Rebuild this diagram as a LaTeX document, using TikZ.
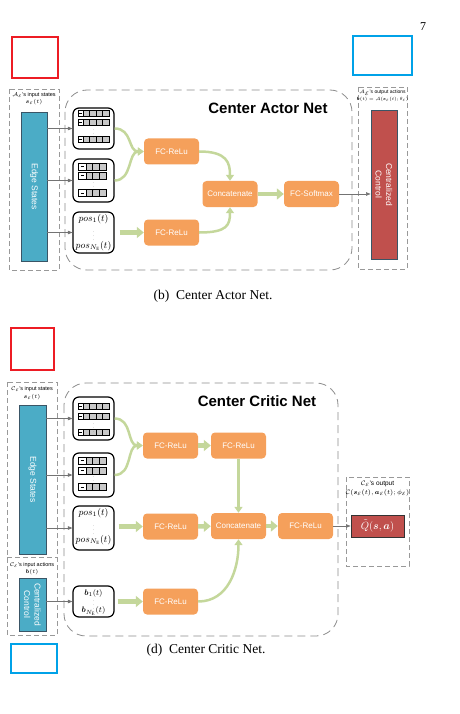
\RequirePackage{fix-cm}
\documentclass[tikz,border=0pt]{standalone}
\usepackage{fontspec}
\setmainfont{Liberation Serif}
\setsansfont{Liberation Sans}
\usepackage{bm}
\usetikzlibrary{arrows.meta}

\definecolor{netorange}{HTML}{F5A05B}
\definecolor{netgreen}{HTML}{C4D79B}
\definecolor{netteal}{HTML}{4BACC6}
\definecolor{netred}{HTML}{C0504D}
\definecolor{netedge}{HTML}{3A5566}
\definecolor{cellgray}{HTML}{C8C8C8}
\definecolor{markred}{HTML}{ED1C24}
\definecolor{markblue}{HTML}{00A2E8}

\tikzset{
  fcbox/.style={fill=netorange, rounded corners=4pt, minimum width=55pt, minimum height=26pt,
    inner sep=0pt, text=white, font=\sffamily\fontsize{8}{9}\selectfont},
  barbox/.style={draw=netedge, line width=0.9pt, fill=netteal, minimum width=26pt, inner sep=0pt},
  bartext/.style={rotate=-90, text=white, font=\sffamily\fontsize{8.5}{10.5}\selectfont, align=center},
  datablk/.style={draw=black, line width=1.2pt, rounded corners=6pt, minimum width=41pt, inner sep=0pt},
  thinarr/.style={draw=black!55, line width=0.6pt, -{Triangle[length=4.5pt,width=3.5pt]}},
  curvarr/.style={draw=netgreen, line width=2.5pt, -{Triangle[length=6pt,width=8pt]}},
  fatarr/.style={draw=netgreen, line width=4.5pt, -{Triangle[length=7pt,width=11pt]}},
  dashbox/.style={draw=black!40, line width=0.7pt, dash pattern=on 5pt off 3pt},
  netbox/.style={draw=black!45, line width=0.8pt, dash pattern=on 8pt off 5pt, rounded corners=22pt},
  tinytext/.style={font=\sffamily\fontsize{5.5}{6}\selectfont, inner sep=0pt},
  nettitle/.style={font=\sffamily\bfseries\fontsize{15}{17}\selectfont},
  vdotsnode/.style={text=black!50, font=\fontsize{5}{5}\selectfont, inner sep=0pt},
  marker/.style={line width=1.5pt},
}

\begin{document}
\begin{tikzpicture}[x=1pt, y=-1pt]
  \useasboundingbox (0,0) rectangle (459,714);

  \node[font=\fontsize{12}{13}\selectfont] (pagenum) at (423,27) {7};
  \draw[marker, draw=markred] (12,37) rectangle (58,78);
  \draw[marker, draw=markblue] (353,36) rectangle (412,75);

  % actor net
  \draw[dashbox] (9,89) rectangle (59,270);
  \node[tinytext] (inA1) at (34,95) {$\mathcal{A}_{\mathcal{E}}$'s input states};
  \node[tinytext] (inA2) at (34,102) {$\bm{s}_{\mathcal{E}}(t)$};
  \node[barbox, minimum height=149pt] (edgeA) at (34,186.5) {};
  \node[bartext] (edgeAtxt) at (edgeA) {Edge States};
  \draw[netbox] (65,90) rectangle (352,270);
  \node[nettitle] (titleA) at (268,108) {Center Actor Net};

  \node[datablk, minimum height=41pt] (blkA1) at (93.5,128.5) {};
  \node[datablk, minimum height=43pt] (blkA2) at (93.5,180.5) {};
  \node[datablk, minimum height=41pt] (blkA3) at (93.5,232.5) {};
  \foreach \r in {113,122,139} {
    \draw[line width=0.9pt, fill=white] (78,\r-3) rectangle (109,\r+3);
    \foreach \c in {0,...,3}
      \draw[line width=0.4pt, fill=cellgray] (83+6.5*\c,\r-3) rectangle ++(6.5,6);
    \draw[line width=0.5pt] (79.3,\r) -- (81.7,\r);
  }
  \foreach \r in {166.5,175.5,193} {
    \draw[line width=0.9pt, fill=white] (78,\r-3.5) rectangle (106,\r+3.5);
    \foreach \c in {0,1,2}
      \draw[line width=0.4pt, fill=cellgray] (86+6.67*\c,\r-3.5) rectangle ++(6.67,7);
    \draw[line width=0.6pt] (80.5,\r) -- (83.5,\r);
  }
  \node[vdotsnode] (dotsA1) at (93.5,131) {$\vdots$};
  \node[vdotsnode] (dotsA2) at (93.5,184) {$\vdots$};
  \node[font=\fontsize{9.5}{10}\selectfont, inner sep=0pt] (posA1) at (93.5,219) {$pos_1(t)$};
  \node[vdotsnode] (dotsA3) at (93.5,233) {$\vdots$};
  \node[font=\fontsize{9.5}{10}\selectfont, inner sep=0pt] (posA2) at (93.5,246) {$pos_{N_{\mathrm{E}}}(t)$};

  \node[fcbox] (fcA1) at (171.5,151.5) {FC-ReLu};
  \node[fcbox] (fcA2) at (171.5,232.5) {FC-ReLu};
  \node[fcbox] (catA) at (230,194) {Concatenate};
  \node[fcbox] (smaxA) at (311.5,194) {FC-Softmax};

  \draw[dashbox] (358,87) rectangle (407,269);
  \node[tinytext, font=\sffamily\fontsize{5}{5.5}\selectfont] (outA1) at (382.5,93) {$\mathcal{A}_{\mathcal{E}}$'s output actions};
  \node[tinytext, font=\fontsize{4.5}{5}\selectfont] (outA2) at (382.5,99.5) {$\bm{b}(t)=\mathcal{A}(\bm{s}_{\mathcal{E}}(t);\theta_{\mathcal{E}})$};
  \node[barbox, fill=netred, minimum height=149pt] (ctrlA) at (384,184.5) {};
  \node[bartext] (ctrlAtxt) at (ctrlA) {Centralized\\Control};

  \draw[thinarr] (blkA1.west -| edgeA.east) -- (blkA1.west);
  \draw[thinarr] (blkA2.west -| edgeA.east) -- (blkA2.west);
  \draw[thinarr] (blkA3.west -| edgeA.east) -- (blkA3.west);
  \draw[curvarr] (blkA1.east) .. controls +(18,0) and +(-16,0) .. (fcA1.west);
  \draw[curvarr] (blkA2.east) .. controls +(18,0) and +(-16,0) .. (fcA1.west);
  \draw[fatarr, shorten <=5pt] (blkA3.east) -- (fcA2.west);
  \draw[curvarr] (fcA1.east) .. controls +(28,0) and +(0,-18) .. (catA.north);
  \draw[curvarr] (fcA2.east) .. controls +(28,0) and +(0,18) .. (catA.south);
  \draw[fatarr] (catA) -- (smaxA);
  \draw[thinarr] (smaxA.east) -- (smaxA.east -| ctrlA.west);

  \node[font=\fontsize{13.5}{15}\selectfont] (capA) at (213,296) {(b)\enspace Center Actor Net.};

  % critic net
  \draw[marker, draw=markred] (11,328) rectangle (54,370);
  \draw[dashbox] (7,382) rectangle (57,635);
  \draw[dashbox] (7,557) -- (57,557);
  \node[tinytext] (inC1) at (32,389) {$\mathcal{C}_{\mathcal{E}}$'s input states};
  \node[tinytext] (inC2) at (32,397) {$\bm{s}_{\mathcal{E}}(t)$};
  \node[barbox, minimum width=27pt, minimum height=149pt] (edgeC) at (32.5,479.5) {};
  \node[bartext] (edgeCtxt) at (edgeC) {Edge States};
  \node[tinytext] (inC3) at (32,565) {$\mathcal{C}_{\mathcal{E}}$'s input actions};
  \node[tinytext] (inC4) at (32,572) {$\bm{b}(t)$};
  \node[barbox, minimum width=27pt, minimum height=53pt] (ctrlC) at (32.5,604.5) {};
  \node[bartext] (ctrlCtxt) at (ctrlC) {Centralized\\Control};
  \draw[netbox] (64,383) rectangle (338,636);
  \node[nettitle] (titleC) at (257,401) {Center Critic Net};

  \node[datablk, minimum height=43pt] (blkC1) at (93.5,418.5) {};
  \node[datablk, minimum height=44pt] (blkC2) at (93.5,475) {};
  \node[datablk, minimum height=44pt] (blkC3) at (93.5,528) {};
  \node[datablk, minimum height=31pt] (blkC4) at (93.5,601.5) {};
  \foreach \r in {406.5,416.5,432.5} {
    \draw[line width=0.9pt, fill=white] (78,\r-3) rectangle (109,\r+3);
    \foreach \c in {0,...,3}
      \draw[line width=0.4pt, fill=cellgray] (83+6.5*\c,\r-3) rectangle ++(6.5,6);
    \draw[line width=0.5pt] (79.3,\r) -- (81.7,\r);
  }
  \foreach \r in {460.5,470.5,487} {
    \draw[line width=0.9pt, fill=white] (78,\r-3.5) rectangle (106,\r+3.5);
    \foreach \c in {0,1,2}
      \draw[line width=0.4pt, fill=cellgray] (86+6.67*\c,\r-3.5) rectangle ++(6.67,7);
    \draw[line width=0.6pt] (80.5,\r) -- (83.5,\r);
  }
  \node[vdotsnode] (dotsC1) at (93.5,425) {$\vdots$};
  \node[vdotsnode] (dotsC2) at (93.5,478) {$\vdots$};
  \node[font=\fontsize{9.5}{10}\selectfont, inner sep=0pt] (posC1) at (93.5,513) {$pos_1(t)$};
  \node[vdotsnode] (dotsC3) at (93.5,527) {$\vdots$};
  \node[font=\fontsize{9.5}{10}\selectfont, inner sep=0pt] (posC2) at (93.5,540) {$pos_{N_{\mathrm{E}}}(t)$};
  \node[font=\fontsize{8}{9}\selectfont, inner sep=0pt] (actC1) at (93.5,593) {$\bm{b}_1(t)$};
  \node[vdotsnode] (dotsC4) at (93.5,602) {$\vdots$};
  \node[font=\fontsize{8}{9}\selectfont, inner sep=0pt] (actC2) at (93.5,611) {$\bm{b}_{N_{\mathrm{E}}}(t)$};

  \node[fcbox] (fcC1) at (170.5,445.5) {FC-ReLu};
  \node[fcbox] (fcC2) at (238.5,445.5) {FC-ReLu};
  \node[fcbox] (fcC3) at (170.5,526.5) {FC-ReLu};
  \node[fcbox] (catC) at (238.5,526) {Concatenate};
  \node[fcbox] (fcC4) at (305.5,526) {FC-ReLu};
  \node[fcbox] (fcC5) at (170.5,601.5) {FC-ReLu};

  \draw[dashbox] (346,477) rectangle (409,566);
  \node[font=\sffamily\fontsize{6.5}{7}\selectfont, inner sep=0pt] (outC1) at (377.5,484) {$\mathcal{C}_{\mathcal{E}}$'s output};
  \node[font=\fontsize{6.5}{7}\selectfont, inner sep=0pt] (outC2) at (377.5,493) {$\mathcal{C}(\bm{s}_{\mathcal{E}}(t),\bm{a}_{\mathcal{E}}(t);\phi_{\mathcal{E}})$};
  \node[draw=black!80, line width=0.9pt, fill=netred, minimum width=53pt, minimum height=22pt,
    inner sep=0pt, text=white, font=\fontsize{10.5}{11}\selectfont] (qC) at (377.5,526) {$\tilde{Q}(\bm{s},\bm{a})$};

  \draw[thinarr] (blkC1.west -| edgeC.east) -- (blkC1.west);
  \draw[thinarr] (blkC2.west -| edgeC.east) -- (blkC2.west);
  \draw[thinarr] (blkC3.west -| edgeC.east) -- (blkC3.west);
  \draw[thinarr] (blkC4.west -| ctrlC.east) -- (blkC4.west);
  \draw[curvarr] (blkC1.east) .. controls +(18,0) and +(-16,0) .. (fcC1.west);
  \draw[curvarr] (blkC2.east) .. controls +(18,0) and +(-16,0) .. (fcC1.west);
  \draw[fatarr] (fcC1) -- (fcC2);
  \draw[curvarr] (fcC2) -- (catC);
  \draw[fatarr, shorten <=4pt] (blkC3.east |- fcC3.west) -- (fcC3.west);
  \draw[fatarr] (fcC3) -- (catC);
  \draw[fatarr] (catC) -- (fcC4);
  \draw[fatarr, shorten <=3pt] (blkC4.east) -- (fcC5.west);
  \draw[curvarr] (fcC5.east) .. controls +(30,0) and +(0,30) .. (catC.south);
  \draw[thinarr] (fcC4.east) -- (fcC4.east -| qC.west);

  \node[font=\fontsize{13.5}{15}\selectfont] (capC) at (206,650) {(d)\enspace Center Critic Net.};
  \draw[marker, draw=markblue] (11,644) rectangle (57,673);
\end{tikzpicture}
\end{document}
